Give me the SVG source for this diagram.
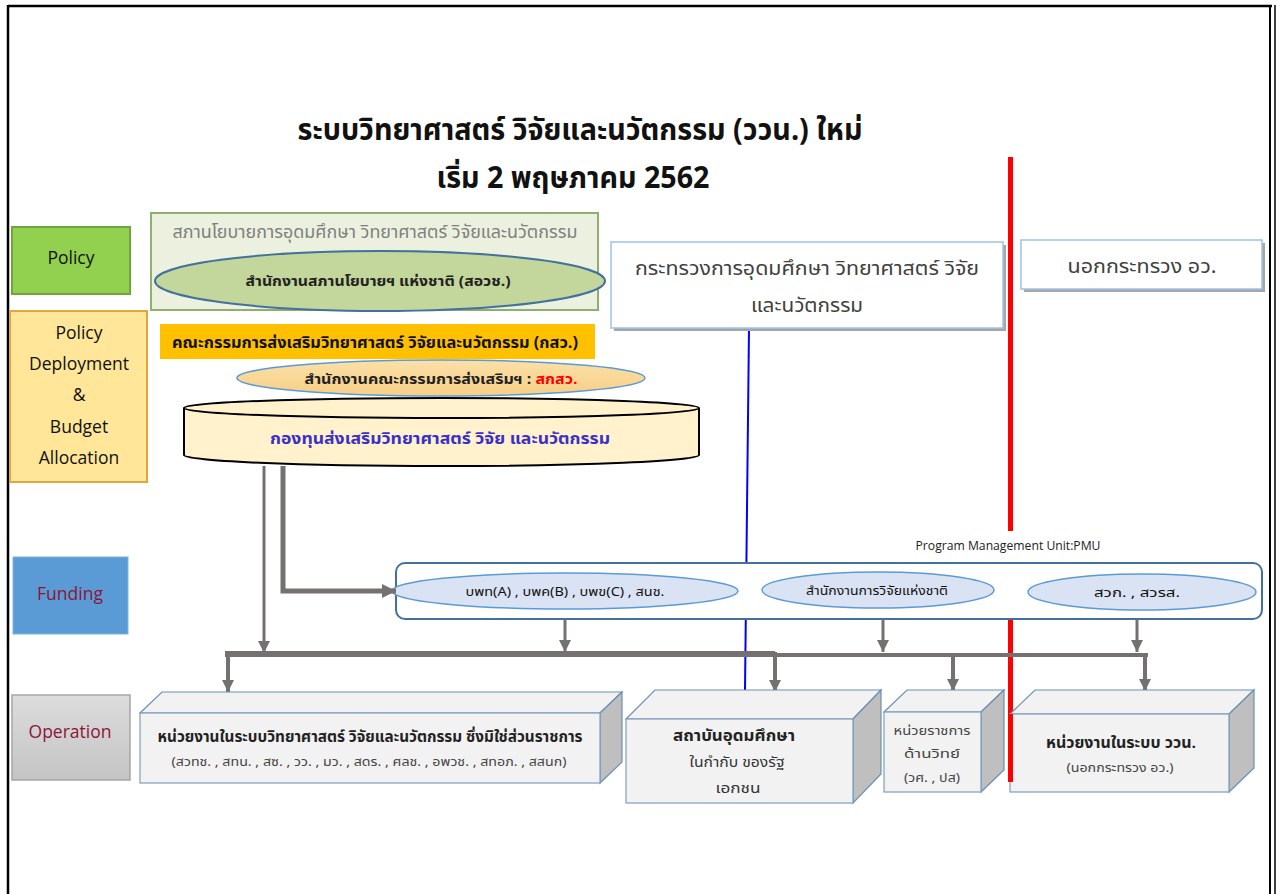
<svg xmlns="http://www.w3.org/2000/svg" width="1277" height="894" viewBox="0 0 1277 894">
<defs>
<style>
text{font-family:"Noto Sans Thai","Tahoma","Noto Sans","DejaVu Sans",sans-serif;}
.lat{font-family:"Open Sans","Liberation Sans",sans-serif;}
.lbl{font-size:17.5px;text-anchor:middle;fill:#111;}
.dred{fill:#8b1538;}
.c{text-anchor:middle;}
.cube-f{fill:#f2f2f2;stroke:#7f9dbf;stroke-width:1.2;}
.cube-t{fill:#f2f2f2;stroke:#6d8fb5;stroke-width:1.2;}
.cube-s{fill:#bfbfbf;stroke:#6d8fb5;stroke-width:1.2;}
.pmu-e{fill:#dae3f3;stroke:#5b9bd5;stroke-width:1.5;}
.gl{stroke:#767171;fill:none;}
</style>
<marker id="ah" viewBox="0 0 10 10" refX="10" refY="5" markerWidth="12" markerHeight="12" markerUnits="userSpaceOnUse" orient="auto">
<path d="M0,0 L10,5 L0,10 z" fill="#767171"/>
</marker>
<marker id="ahb" viewBox="0 0 10 10" refX="10" refY="5" markerWidth="14" markerHeight="14" markerUnits="userSpaceOnUse" orient="auto">
<path d="M0,0 L10,5 L0,10 z" fill="#767171"/>
</marker>
<linearGradient id="opg" x1="0" y1="0" x2="0" y2="1">
<stop offset="0" stop-color="#dcdcdc"/><stop offset="1" stop-color="#c4c4c4"/>
</linearGradient>
<linearGradient id="og" x1="0" y1="0" x2="0" y2="1">
<stop offset="0" stop-color="#fbe0a8"/><stop offset="1" stop-color="#f7cf86"/>
</linearGradient>
</defs>

<!-- frame -->
<g id="frame" fill="none" stroke="#000">
<line x1="8" y1="6" x2="1272" y2="6" stroke-width="2.5"/>
<line x1="8" y1="5" x2="8" y2="894" stroke-width="2.5"/>
<line x1="1270" y1="5" x2="1270" y2="894" stroke-width="2"/>
<line x1="1275" y1="5" x2="1275" y2="894" stroke-width="1.5"/>
</g>

<!-- title -->
<g id="title" font-weight="bold" fill="#111">
<text x="580" y="140" class="c" font-size="30" textLength="565" lengthAdjust="spacingAndGlyphs">ระบบวิทยาศาสตร์ วิจัยและนวัตกรรม (ววน.) ใหม่</text>
<text x="573" y="188" class="c" font-size="30" textLength="273" lengthAdjust="spacingAndGlyphs">เริ่ม 2 พฤษภาคม 2562</text>
</g>

<!-- divider lines -->
<g id="dividers">
<rect x="1008" y="157" width="5" height="374" fill="#ff0000"/>
<rect x="1008" y="562" width="5" height="220" fill="#ff0000"/>
<line x1="749" y1="328" x2="745" y2="690" stroke="#0000ff" stroke-width="2"/>
</g>

<!-- left labels -->
<g id="lbl-policy">
<rect x="12" y="227" width="118" height="67" fill="#92d050" stroke="#6fa53a" stroke-width="2"/>
<text x="71" y="264" class="lat lbl">Policy</text>
</g>
<g id="lbl-deploy">
<rect x="10" y="311" width="137" height="171" fill="#ffe699" stroke="#e0a83c" stroke-width="2"/>
<text x="79" y="339" class="lat lbl">Policy</text>
<text x="79" y="370" class="lat lbl">Deployment</text>
<text x="79" y="401" class="lat lbl">&amp;</text>
<text x="79" y="433" class="lat lbl">Budget</text>
<text x="79" y="464" class="lat lbl">Allocation</text>
</g>
<g id="lbl-funding">
<rect x="13" y="557" width="115" height="77" fill="#5b9bd5" stroke="#7fb2e0" stroke-width="1"/>
<text x="70" y="600" class="lat lbl dred" font-size="16.5">Funding</text>
</g>
<g id="lbl-operation">
<rect x="12" y="695" width="118" height="85" fill="url(#opg)" stroke="#a6a6a6" stroke-width="1.5"/>
<text x="70" y="738" class="lat lbl dred">Operation</text>
</g>

<!-- policy council -->
<g id="policy-council">
<rect x="151" y="213" width="447" height="97" fill="#ebf1de" stroke="#8fae6f" stroke-width="2"/>
<text x="375" y="238" class="c" font-size="17" fill="#7f7f7f" textLength="405" lengthAdjust="spacingAndGlyphs">สภานโยบายการอุดมศึกษา วิทยาศาสตร์ วิจัยและนวัตกรรม</text>
</g>
<g id="nxpo">
<ellipse cx="380" cy="281" rx="225" ry="30" fill="#c3d69b" stroke="#41719c" stroke-width="2"/>
<text x="378" y="286" class="c" font-size="14.5" font-weight="bold" fill="#222" textLength="265" lengthAdjust="spacingAndGlyphs">สำนักงานสภานโยบายฯ แห่งชาติ (สอวช.)</text>
</g>

<!-- TSRI committee -->
<g id="tsri-committee">
<rect x="160" y="324" width="435" height="35" fill="#ffc000"/>
<text x="172" y="348" font-size="16" font-weight="bold" fill="#111" textLength="406" lengthAdjust="spacingAndGlyphs">คณะกรรมการส่งเสริมวิทยาศาสตร์ วิจัยและนวัตกรรม (กสว.)</text>
</g>
<g id="tsri-office">
<ellipse cx="441" cy="378" rx="204" ry="18" fill="url(#og)" stroke="#5b9bd5" stroke-width="1.5"/>
<text x="441" y="384" class="c" font-size="14" font-weight="bold" fill="#222" textLength="273" lengthAdjust="spacingAndGlyphs">สำนักงานคณะกรรมการส่งเสริมฯ : <tspan fill="#ff0000">สกสว.</tspan></text>
</g>

<!-- fund cylinder -->
<g id="fund">
<path d="M184,408 V455 A257.5,11 0 0 0 699,455 V408" fill="#fff2cc" stroke="#000" stroke-width="2"/>
<ellipse cx="441.5" cy="408" rx="257.5" ry="10" fill="#fff2cc" stroke="#000" stroke-width="2"/>
<text x="440" y="444" class="c" font-size="16" font-weight="bold" fill="#3a2fc9" textLength="340" lengthAdjust="spacingAndGlyphs">กองทุนส่งเสริมวิทยาศาสตร์ วิจัย และนวัตกรรม</text>
</g>

<!-- ministry -->
<g id="mhesi">
<rect x="614" y="245" width="392" height="86" fill="#a6a6a6"/>
<rect x="611" y="242" width="392" height="86" fill="#fff" stroke="#9dc3e6" stroke-width="1.5"/>
<text x="807" y="275" class="c" font-size="19" fill="#404040" textLength="344" lengthAdjust="spacingAndGlyphs">กระทรวงการอุดมศึกษา วิทยาศาสตร์ วิจัย</text>
<text x="807" y="312" class="c" font-size="19" fill="#404040" textLength="112" lengthAdjust="spacingAndGlyphs">และนวัตกรรม</text>
</g>
<g id="outside">
<rect x="1024" y="243" width="241" height="49" fill="#a6a6a6"/>
<rect x="1021" y="240" width="241" height="49" fill="#fff" stroke="#9dc3e6" stroke-width="1.5"/>
<text x="1142" y="273" class="c" font-size="19" fill="#404040" textLength="149" lengthAdjust="spacingAndGlyphs">นอกกระทรวง อว.</text>
</g>

<!-- PMU -->
<g id="pmu">
<text x="1008" y="550" class="lat c" font-size="12" fill="#222" textLength="185" lengthAdjust="spacingAndGlyphs">Program Management Unit:PMU</text>
<rect x="396" y="563" width="866" height="56" rx="9" fill="#fff" stroke="#41719c" stroke-width="2"/>
</g>
<g id="pmu-a">
<ellipse cx="565" cy="591" rx="173" ry="18" class="pmu-e"/>
<text x="565" y="596" class="c" font-size="13" fill="#111" textLength="199" lengthAdjust="spacingAndGlyphs">บพท(A) , บพค(B) , บพข(C) , สนช.</text>
</g>
<g id="pmu-nrct">
<ellipse cx="878" cy="590" rx="116" ry="18" class="pmu-e"/>
<text x="877" y="595" class="c" font-size="13" fill="#111" textLength="142" lengthAdjust="spacingAndGlyphs">สำนักงานการวิจัยแห่งชาติ</text>
</g>
<g id="pmu-c">
<ellipse cx="1142" cy="592" rx="114" ry="18" class="pmu-e"/>
<text x="1137" y="597" class="c" font-size="13" fill="#111" textLength="86" lengthAdjust="spacingAndGlyphs">สวก. , สวรส.</text>
</g>

<!-- connectors -->
<g id="connectors">
<path class="gl" d="M264,466 V653" stroke-width="3" marker-end="url(#ah)"/>
<path class="gl" d="M283,466 V591 H396" stroke-width="5" marker-end="url(#ahb)"/>
<path class="gl" d="M565,619 V652" stroke-width="3" marker-end="url(#ah)"/>
<path class="gl" d="M883,619 V652" stroke-width="3" marker-end="url(#ah)"/>
<path class="gl" d="M1137,619 V652" stroke-width="3" marker-end="url(#ah)"/>
<path class="gl" d="M225,654 H775" stroke-width="6"/>
<path class="gl" d="M775,655 H1148" stroke-width="4"/>
<path class="gl" d="M228,652 V692" stroke-width="4" marker-end="url(#ah)"/>
<path class="gl" d="M775,652 V692" stroke-width="4" marker-end="url(#ah)"/>
<path class="gl" d="M953,653 V691" stroke-width="4" marker-end="url(#ah)"/>
<path class="gl" d="M1145,653 V691" stroke-width="4" marker-end="url(#ah)"/>
</g>

<!-- operation cubes -->
<g id="op-nonagency">
<polygon class="cube-t" points="140,713 162,692 622,692 600,713"/>
<polygon class="cube-s" points="600,713 622,692 622,762 600,783"/>
<rect x="140" y="713" width="460" height="70" class="cube-f"/>
<text x="370" y="742" class="c" font-size="15" font-weight="bold" fill="#222" textLength="425" lengthAdjust="spacingAndGlyphs">หน่วยงานในระบบวิทยาศาสตร์ วิจัยและนวัตกรรม ซึ่งมิใช่ส่วนราชการ</text>
<text x="369" y="766" class="c" font-size="12.5" fill="#444" textLength="395" lengthAdjust="spacingAndGlyphs">(สวทช. , สทน. , สซ. , วว. , มว. , สดร. , ศลช. , อพวช. , สทอภ. , สสนก)</text>
</g>
<g id="op-univ">
<polygon class="cube-t" points="626,719 655,690 881,690 853,719"/>
<polygon class="cube-s" points="853,719 881,690 881,774 853,803"/>
<rect x="626" y="719" width="227" height="84" class="cube-f"/>
<text x="734" y="741" class="c" font-size="15" font-weight="bold" fill="#222" textLength="122" lengthAdjust="spacingAndGlyphs">สถาบันอุดมศึกษา</text>
<text x="737" y="767" class="c" font-size="13.5" fill="#333" textLength="95" lengthAdjust="spacingAndGlyphs">ในกำกับ ของรัฐ</text>
<text x="738" y="793" class="c" font-size="13.5" fill="#333" textLength="45" lengthAdjust="spacingAndGlyphs">เอกชน</text>
</g>
<g id="op-gov">
<polygon class="cube-t" points="884,712 907,690 1004,690 981,712"/>
<polygon class="cube-s" points="981,712 1004,690 1004,770 981,792"/>
<rect x="884" y="712" width="97" height="80" class="cube-f"/>
<text x="932" y="735" class="c" font-size="12.5" fill="#444" textLength="77" lengthAdjust="spacingAndGlyphs">หน่วยราชการ</text>
<text x="932" y="758" class="c" font-size="12.5" fill="#444" textLength="56" lengthAdjust="spacingAndGlyphs">ด้านวิทย์</text>
<text x="932" y="782" class="c" font-size="12.5" fill="#444" textLength="56" lengthAdjust="spacingAndGlyphs">(วศ. , ปส)</text>
</g>
<g id="op-outside">
<polygon class="cube-t" points="1010,714 1035,690 1254,690 1229,714"/>
<polygon class="cube-s" points="1229,714 1254,690 1254,768 1229,792"/>
<rect x="1010" y="714" width="219" height="78" class="cube-f"/>
<text x="1121" y="748" class="c" font-size="15" font-weight="bold" fill="#222" textLength="150" lengthAdjust="spacingAndGlyphs">หน่วยงานในระบบ ววน.</text>
<text x="1120" y="772" class="c" font-size="12.5" fill="#444" textLength="107" lengthAdjust="spacingAndGlyphs">(นอกกระทรวง อว.)</text>
</g>
<rect x="1008" y="714" width="5" height="68" fill="#ff0000"/>
</svg>
